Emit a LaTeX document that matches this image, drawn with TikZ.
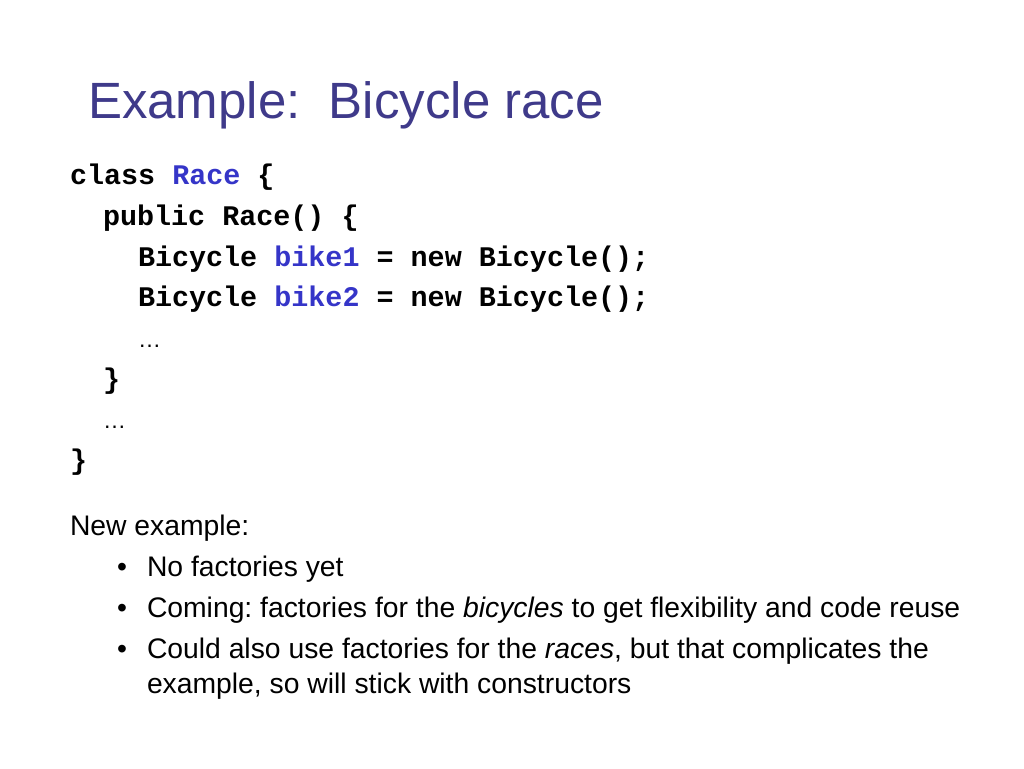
\documentclass[tikz,border=0pt]{standalone}
\usepackage{fontspec}
\setmainfont{Liberation Sans}
\setmonofont{Liberation Mono}
\definecolor{titleblue}{HTML}{3F3A8A}
\definecolor{codeblue}{HTML}{3535C8}
\begin{document}
\frenchspacing
\begin{tikzpicture}[x=1pt,y=-1pt,
  txt/.style={anchor=base west,inner sep=0pt,outer sep=0pt},
  code/.style={txt,font=\fontsize{28.4}{32}\ttfamily\bfseries},
  body/.style={txt,font=\fontsize{28.3}{32}\selectfont}]
\useasboundingbox (0,0) rectangle (1024,768);
\node[txt,font=\fontsize{51}{58}\selectfont,text=titleblue] (title) at (88,118) {Example:\ \ Bicycle race};
\node[code] (c1) at (70,184) {class \textcolor{codeblue}{Race} \{};
\node[code] (c2) at (103,225) {public Race() \{};
\node[code] (c3) at (138,266) {Bicycle \textcolor{codeblue}{bike1} = new Bicycle();};
\node[code] (c4) at (138,306) {Bicycle \textcolor{codeblue}{bike2} = new Bicycle();};
\node[txt,font=\fontsize{23}{26}\selectfont] (c5) at (138,347) {…};
\node[code] (c6) at (103,388) {\}};
\node[txt,font=\fontsize{23}{26}\selectfont] (c7) at (103,428) {…};
\node[code] (c8) at (70,469) {\}};
\node[body] (n0) at (70,535) {New example:};
\node[body] (b1) at (117,576) {•};
\node[body] (t1) at (147,576) {No factories yet};
\node[body] (b2) at (117,617) {•};
\node[body] (t2) at (147,617) {Coming: factories for the \textit{bicycles} to get flexibility and code reuse};
\node[body] (b3) at (117,658) {•};
\node[body] (t3) at (147,658) {Could also use factories for the \textit{races}, but that complicates the};
\node[body] (t4) at (147,693) {example, so will stick with constructors};
\end{tikzpicture}
\end{document}
